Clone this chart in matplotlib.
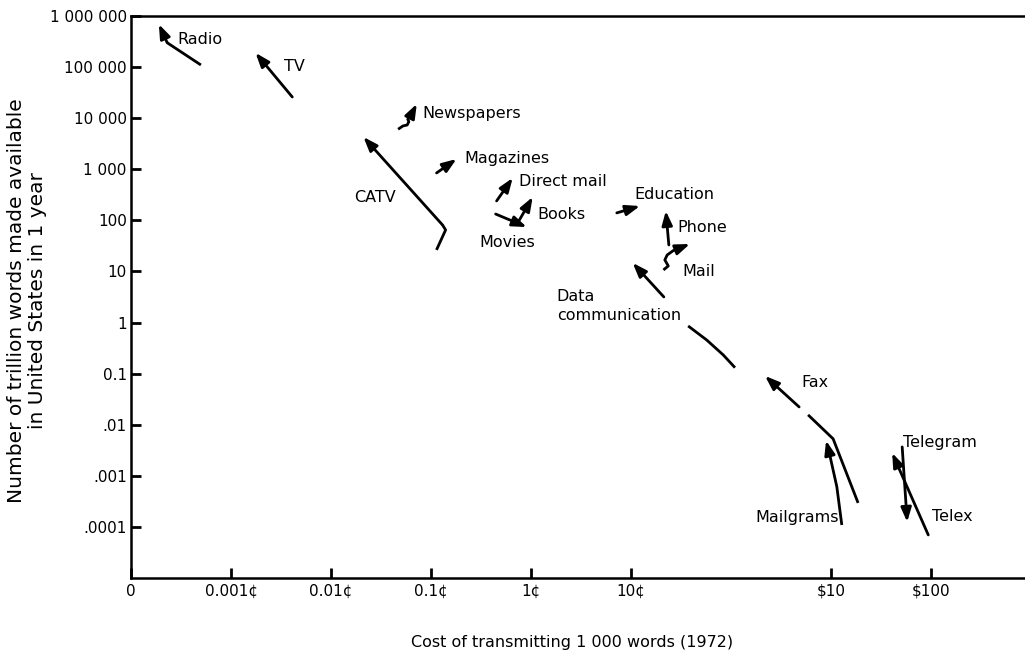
import matplotlib
matplotlib.use("Agg")
import matplotlib.pyplot as plt


# DATA  (cost in cents per 1 000 words, trillion words per year)
radio_cost = [5.0e-4, 2.3e-4, 1.9e-4]
radio_words = [1.1e5, 3.0e5, 6.9e5]

tv_cost = [4.1e-3, 1.76e-3]
tv_words = [2.6e4, 1.9e5]

newspapers_cost = [0.0469, 0.0523, 0.0578, 0.060, 0.0586, 0.0624, 0.0721]
newspapers_words = [6070, 7030, 7360, 8540, 9500, 11000, 19000]

catv_cost = [0.1135, 0.140, 0.1306, 0.0211]
catv_words = [26.4, 64.9, 81, 4290]

magazines_cost = [0.1137, 0.180]
magazines_words = [847, 1590]

direct_mail_cost = [0.453, 0.656]
direct_mail_words = [240, 676]

books_cost = [0.736, 1.04]
books_words = [89, 287]

movies_cost = [0.443, 0.906]
movies_words = [133, 74]

education_cost = [7.21, 12.3]
education_words = [140, 191]

phone_cost = [23.9, 22.3]
phone_words = [33, 153]

mail_cost = [21.1, 23.6, 21.8, 23.0, 26.4, 38.8]
mail_words = [10.7, 12.8, 16.8, 21.0, 25.5, 34.5]

data_comm_cost = [21.3, 10.4]
data_comm_words = [3.17, 14.7]

data_line_cost = [37.3, 57.1, 83.7, 109.6]
data_line_words = [0.857, 0.456, 0.232, 0.131]

fax_cost = [480, 219]
fax_words = [0.0223, 0.0901]

fax_line_cost = [590, 1050, 1866]
fax_line_words = [0.0156, 0.0053, 0.000295]

mailgrams_cost = [1283, 1143, 980, 893]
mailgrams_words = [1.09e-4, 6.15e-4, 2.38e-3, 4.89e-3]

telegram_cost = [9390, 4090]
telegram_words = [6.97e-5, 2.8e-3]

telex_cost = [5150, 5780]
telex_words = [3.68e-3, 1.25e-4]

x_ticks = [1e-4, 1e-3, 1e-2, 1e-1, 1, 10, 1000, 10000]
x_tick_labels = ["0", "0.001¢", "0.01¢", "0.1¢", "1¢", "10¢", r"\$10", r"\$100"]

y_ticks = [1e6, 1e5, 1e4, 1e3, 1e2, 1e1, 1, 0.1, 0.01, 0.001, 0.0001]
y_tick_labels = ["1 000 000", "100 000", "10 000", "1 000", "100", "10", "1",
                 "0.1", ".01", ".001", ".0001"]


# PLOT
fig = plt.figure(figsize=(10.25, 6.56), dpi=100)
ax = fig.add_axes([131 / 1025, 78 / 656, 894 / 1025, 562 / 656])

ax.set_xscale("log")
ax.set_yscale("log")
ax.set_xlim(1e-4, 10 ** 4.94)
ax.set_ylim(1e-5, 1e6)


def draw_trend(cost, words, head=True):
    if not head:
        ax.plot(cost, words, color="black", lw=2, solid_capstyle="butt")
        return
    if len(cost) > 2:
        ax.plot(cost[:-1], words[:-1], color="black", lw=2,
                solid_capstyle="butt")
    ax.annotate(
        "",
        xy=(cost[-1], words[-1]),
        xytext=(cost[-2], words[-2]),
        arrowprops=dict(
            arrowstyle="-|>,head_length=0.65,head_width=0.24",
            color="black",
            lw=2,
            shrinkA=0,
            shrinkB=0,
            mutation_scale=13,
        ),
    )


draw_trend(radio_cost, radio_words)
draw_trend(tv_cost, tv_words)
draw_trend(newspapers_cost, newspapers_words)
draw_trend(catv_cost, catv_words)
draw_trend(magazines_cost, magazines_words)
draw_trend(direct_mail_cost, direct_mail_words)
draw_trend(books_cost, books_words)
draw_trend(movies_cost, movies_words)
draw_trend(education_cost, education_words)
draw_trend(phone_cost, phone_words)
draw_trend(mail_cost, mail_words)
draw_trend(data_comm_cost, data_comm_words)
draw_trend(data_line_cost, data_line_words, head=False)
draw_trend(fax_cost, fax_words)
draw_trend(fax_line_cost, fax_line_words, head=False)
draw_trend(mailgrams_cost, mailgrams_words)
draw_trend(telegram_cost, telegram_words)
draw_trend(telex_cost, telex_words)

# LABELS
labels = [
    ("Radio", 2.9e-4, 3.5e5, "left"),
    ("TV", 3.4e-3, 1.05e5, "left"),
    ("Newspapers", 0.0823, 1.26e4, "left"),
    ("CATV", 0.0171, 274, "left"),
    ("Magazines", 0.217, 1660, "left"),
    ("Direct mail", 0.753, 564, "left"),
    ("Books", 1.17, 133, "left"),
    ("Movies", 0.306, 36.1, "left"),
    ("Education", 10.7, 314, "left"),
    ("Phone", 28.8, 74, "left"),
    ("Mail", 32.3, 10.2, "left"),
    ("Data\ncommunication", 1.81, 2.11, "left"),
    ("Fax", 502, 0.0658, "left"),
    ("Telegram", 5280, 4.4e-3, "left"),
    ("Telex", 1.03e4, 1.57e-4, "left"),
    ("Mailgrams", 174, 1.5e-4, "left"),
]
for text, x, y, ha in labels:
    ax.text(x, y, text, ha=ha, va="center", fontsize=11.5,
            linespacing=1.35, color="black")

# AXES
ax.set_xticks(x_ticks)
ax.set_xticklabels(x_tick_labels)
ax.set_yticks(y_ticks)
ax.set_yticklabels(y_tick_labels)
ax.minorticks_off()
ax.tick_params(axis="both", direction="in", length=7, width=2,
               labelsize=11, pad=4)
ax.tick_params(axis="y", pad=3)

for side in ["left", "top", "bottom"]:
    ax.spines[side].set_linewidth(1.8)
ax.spines["right"].set_visible(False)

fig.text(572 / 1025, 1 - 642 / 656, "Cost of transmitting 1 000 words (1972)",
         ha="center", va="center", fontsize=11.5)
fig.text(27 / 1025, 1 - 301 / 656,
         "Number of trillion words made available\nin United States in 1 year",
         ha="center", va="center", rotation=90, fontsize=14.5,
         multialignment="center", linespacing=1.15)

# SAVE
plt.savefig("out.png", dpi=100)
